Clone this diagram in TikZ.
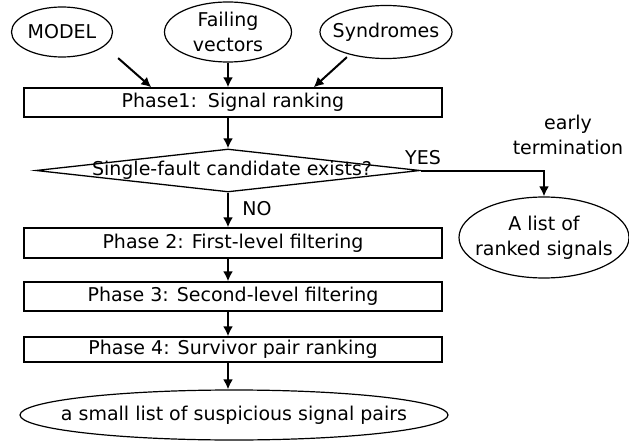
\documentclass[tikz,border=0pt]{standalone}
\usepackage{fontspec}
\setmainfont{DejaVu Sans}
\usepackage{tikz}
\usetikzlibrary{shapes.geometric,arrows.meta,calc}

\begin{document}
\begin{tikzpicture}[x=1pt,y=-1pt,
		every node/.style={font=\fontsize{19}{25}\selectfont, inner sep=0pt},
		phasebox/.style={draw, line width=1.3pt, minimum width=418pt, align=center},
		inoval/.style={draw, ellipse, line width=1.2pt},
		arr/.style={line width=2pt, -{Latex[length=10pt,width=10pt]}}]
			\useasboundingbox (0,0) rectangle (629,441);
			% inputs
			\node[inoval, minimum width=101pt, minimum height=50pt, label=center:MODEL] (model) at (62,32) {};
			\node[inoval, minimum width=127pt, minimum height=60pt, label={[align=center]center:Failing\\vectors}] (fail) at (228,32) {};
			\node[inoval, minimum width=132pt, minimum height=53pt, label=center:Syndromes] (synd) at (386,32) {};
			% phases
			\node[phasebox, minimum height=29pt] (p1) at (233,102.5) {Phase1:\hspace{3pt} Signal ranking};
			\node[draw, diamond, line width=1.3pt, minimum width=384pt, minimum height=43pt] (dec) at (228,170.5) {};
			\node (dectext) at (232,170) {Single-fault candidate exists?};
			\node[phasebox, minimum height=30pt] (p2) at (233,243) {Phase 2: First-level filtering};
			\node[phasebox, minimum height=29pt] (p3) at (233,296.5) {Phase 3: Second-level filtering};
			\node[phasebox, minimum height=25pt] (p4) at (233,349.5) {Phase 4: Survivor pair ranking};
			% outputs
			\node[inoval, minimum width=428pt, minimum height=50pt, label=center:a small list of suspicious signal pairs] (pairs) at (234,415) {};
			\node[inoval, minimum width=170pt, minimum height=81pt, label={[align=center]center:A list of\\ranked signals}] (ranked) at (544,237.5) {};
			\node[align=center] (early) at (568,135) {early\\termination};
			\node (yes) at (423,158) {YES};
			\node (no) at (257,209) {NO};
			% connectors
			\draw[arr] ($(model.south east)+(20,8)$) -- ($(p1.north west)+(128,0)$);
			\draw[arr] (fail.south) -- (fail.south |- p1.north);
			\draw[arr] ($(synd.south west)+(8,6)$) -- ($(p1.north east)-(129,0)$);
			\draw[arr] (dec.north |- p1.south) -- (dec.north);
			\draw[arr] (dec.south) -- (dec.south |- p2.north);
			\draw[arr] (dec.east) -| (ranked.north);
			\draw[arr] (dec.south |- p2.south) -- (dec.south |- p3.north);
			\draw[arr] (dec.south |- p3.south) -- (dec.south |- p4.north);
			\draw[arr] (dec.south |- p4.south) -- (dec.south |- pairs.north);
		\end{tikzpicture}
\end{document}
